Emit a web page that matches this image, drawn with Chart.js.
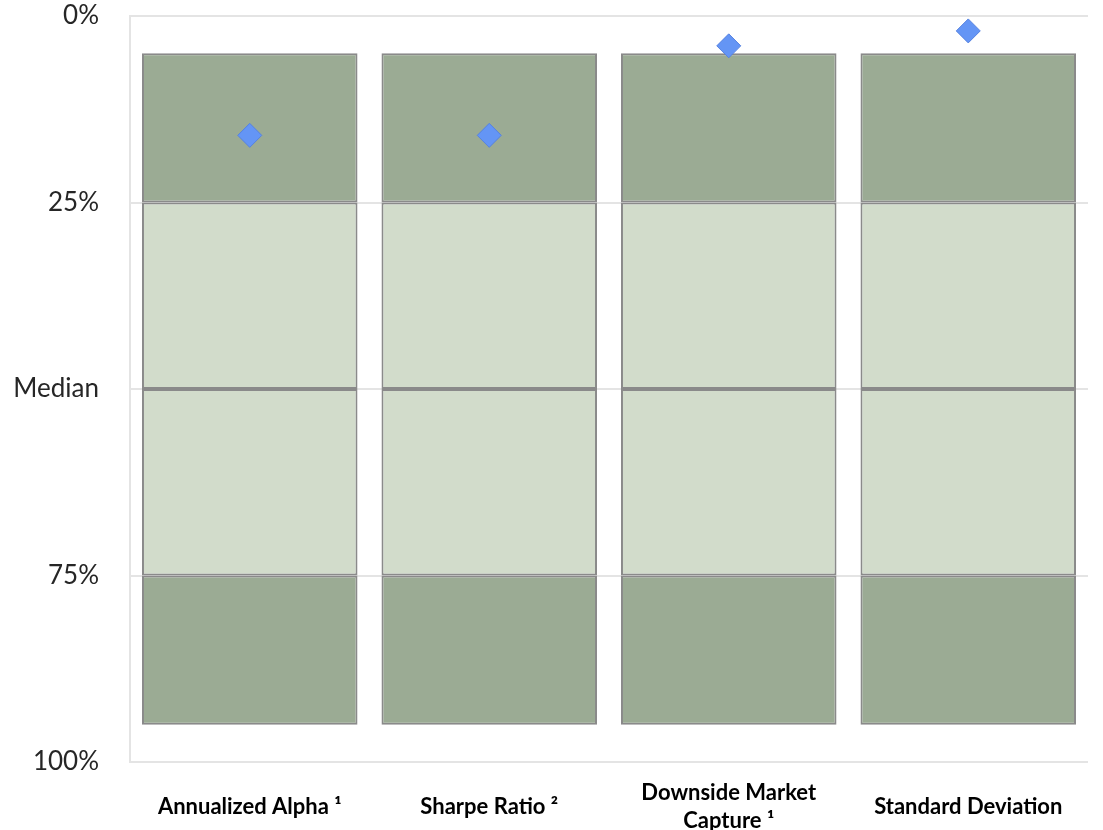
<!DOCTYPE html>
<html>
<head>
<meta charset="utf-8">
<script src="https://cdn.jsdelivr.net/npm/chart.js@4"></script>
<style>
html,body{margin:0;padding:0;background:#fff;}
#wrap{width:1103px;height:830px;}
</style>
</head>
<body>
<div id="wrap"><canvas id="myChart"></canvas></div>
<script>
// categories and percentile bands (rank, 0 = best)
const categories = ["Annualized Alpha \u00b9", "Sharpe Ratio \u00b2", ["Downside Market", "Capture \u00b9"], "Standard Deviation"];
const bandTop = [5, 5, 5, 5];
const quartile1 = [25, 25, 25, 25];
const median = [50, 50, 50, 50];
const quartile3 = [75, 75, 75, 75];
const bandBottom = [95, 95, 95, 95];
const fundRank = [16, 16, 4, 2];

const tickValues = [0, 25, 50, 75, 100];
const tickLabels = ["0%", "25%", "Median", "75%", "100%"];

const darkFill = "#9bab94";
const lightFill = "#d2dccb";
const barEdge = "#8a8a8a";

function band(lo, hi, color){
  return {
    type: "bar",
    data: lo.map((v, i) => [v, hi[i]]),
    backgroundColor: color,
    borderColor: barEdge,
    borderWidth: 2,
    borderSkipped: false,
    grouped: false,
    barPercentage: 0.9,
    categoryPercentage: 1,
    order: 2
  };
}

new Chart("myChart", {
  data: {
    labels: categories,
    datasets: [
      band(bandTop, quartile1, darkFill),
      band(quartile1, median, lightFill),
      band(median, quartile3, lightFill),
      band(quartile3, bandBottom, darkFill),
      {
        type: "line",
        data: fundRank,
        showLine: false,
        pointStyle: "rectRot",
        pointRadius: 12,
        pointBackgroundColor: "#6495f5",
        pointBorderColor: "#5582e0",
        pointBorderWidth: 1,
        order: 1
      }
    ]
  },
  options: {
    responsive: true,
    maintainAspectRatio: false,
    animation: false,
    layout: {padding: {left: 0, right: 15, top: 16, bottom: 0}},
    plugins: {legend: {display: false}, tooltip: {enabled: false}},
    scales: {
      x: {
        grid: {display: false},
        border: {display: false},
        ticks: {
          color: "#000",
          font: {family: "Lato", size: 22, weight: "bold", lineHeight: 1.27},
          maxRotation: 0,
          autoSkip: false,
          padding: 23,
          crossAlign: "center"
        },
        afterFit: function(s){ s.height = 68; s.paddingLeft = 0; s.paddingRight = 0; }
      },
      y: {
        min: 0,
        max: 100,
        reverse: true,
        afterBuildTicks: function(s){ s.ticks = tickValues.map(v => ({value: v})); },
        afterFit: function(s){ s.width = 130; s.paddingTop = 0; s.paddingBottom = 0; },
        grid: {color: "#e4e4e4", lineWidth: 2, drawTicks: false},
        border: {display: true, color: "#e4e4e4", width: 2},
        ticks: {
          color: "#262626",
          font: {family: "Lato", size: 26},
          padding: 31,
          callback: function(v, i){ return tickLabels[i]; }
        }
      }
    }
  }
});
</script>
</body>
</html>
